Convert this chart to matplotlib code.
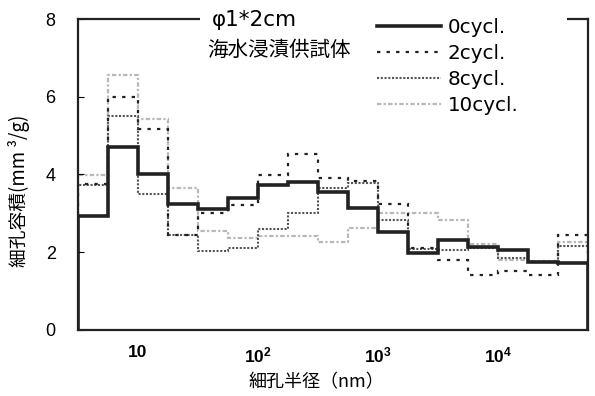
import numpy as np
import matplotlib
matplotlib.use("Agg")
import matplotlib.pyplot as plt
from matplotlib.patches import Rectangle

plt.rcParams['font.family'] = ['DejaVu Sans', 'Noto Sans CJK JP']
plt.rcParams['mathtext.fontset'] = 'custom'
plt.rcParams['mathtext.rm'] = 'Liberation Sans:bold'
plt.rcParams['mathtext.it'] = 'Liberation Sans:bold'
plt.rcParams['mathtext.bf'] = 'Liberation Sans:bold'

cjk = ['Noto Sans CJK JP', 'DejaVu Sans']

# bin edges: quarter-decade classes from 10^0.5 to 10^4.75 nm
edge_exp = [0.5, 0.75, 1.0, 1.25, 1.5, 1.75, 2.0, 2.25, 2.5, 2.75,
            3.0, 3.25, 3.5, 3.75, 4.0, 4.25, 4.5, 4.75]
edges = [10 ** e for e in edge_exp]

cyc0 = [2.93, 4.70, 4.00, 3.24, 3.11, 3.39, 3.73, 3.81, 3.55, 3.14,
        2.53, 1.97, 2.30, 2.12, 2.06, 1.75, 1.72]
cyc2 = [3.75, 6.00, 5.18, 2.44, 3.00, 3.21, 3.98, 4.52, 3.92, 3.82,
        3.23, 2.10, 1.80, 1.41, 1.52, 1.41, 2.43]
cyc8 = [3.73, 5.50, 3.50, 2.44, 2.04, 2.10, 2.59, 3.02, 3.64, 3.78,
        2.83, 2.08, 2.06, 2.10, 1.85, 1.75, 2.15]
cyc10 = [3.98, 6.56, 5.42, 3.64, 2.55, 2.36, 2.42, 2.42, 2.27, 2.61,
         3.02, 3.00, 2.83, 2.20, 1.80, 1.78, 2.25]

labels = ['0cycl.', '2cycl.', '8cycl.', '10cycl.']
xticks = [10, 100, 1000, 10000]
xticklabels = ['10', r'$10^2$', r'$10^3$', r'$10^4$']
yticks = [0, 2, 4, 6, 8]

fig = plt.figure(figsize=(5.95, 3.96), dpi=100)
ax = fig.add_axes([0.131, 0.167, 0.857, 0.785])

ax.stairs(cyc10, edges, color='#b8b8b8', lw=1.6, linestyle=(0, (2, 1, 1, 1)), label=labels[3])
ax.stairs(cyc8, edges, color='#555555', lw=1.5, linestyle=(0, (1, 0.8)), label=labels[2])
ax.stairs(cyc2, edges, color='#222222', lw=1.6, linestyle=(0, (1.5, 2.8)), label=labels[1])
ax.stairs(cyc0, edges, color='#222222', lw=2.6, label=labels[0])

ax.set_xscale('log')
ax.set_xlim(edges[0], edges[-1])
ax.set_ylim(0, 8)
ax.set_xticks(xticks)
ax.set_xticklabels(xticklabels, fontsize=12.5, family='Liberation Sans', weight='bold')
ax.xaxis.set_minor_locator(matplotlib.ticker.NullLocator())
ax.tick_params(axis='x', length=0, pad=11)
ax.set_yticks(yticks)
ax.set_yticklabels([str(v) for v in yticks], fontsize=13, family='Liberation Sans')
ax.tick_params(axis='y', direction='in', length=4, pad=16)
for sp in ax.spines.values():
    sp.set_linewidth(1.6)
    sp.set_color('#222222')

ax.set_xlabel('細孔半径（nm）', fontsize=13, family=cjk)
ax.xaxis.set_label_coords(0.467, -0.14)
ax.set_ylabel('細孔容積(mm ³/g)', fontsize=13.5, family=cjk)
ax.yaxis.set_label_coords(-0.094, 0.447)

# white box hiding the top frame behind the annotations
ax.add_patch(Rectangle((0.239, 0.96), 0.72, 0.08, transform=ax.transAxes,
                       facecolor='white', edgecolor='none', zorder=3, clip_on=False))

ax.text(0.263, 0.997, 'φ1*2cm', transform=ax.transAxes, fontsize=15.5,
        va='center', ha='left', zorder=4)
ax.text(0.253, 0.90, '海水浸漬供試体', transform=ax.transAxes, fontsize=14.8,
        family=cjk, va='center', ha='left', zorder=4)

h, l = ax.get_legend_handles_labels()
order = [3, 2, 1, 0]
leg = ax.legend([h[i] for i in order], [l[i] for i in order], loc='upper left',
                bbox_to_anchor=(0.571, 1.029), frameon=False, fontsize=14.3,
                handlelength=3.2, handletextpad=0.36, labelspacing=0.36,
                borderaxespad=0)
leg.set_zorder(5)

fig.savefig('out.png', dpi=100)
